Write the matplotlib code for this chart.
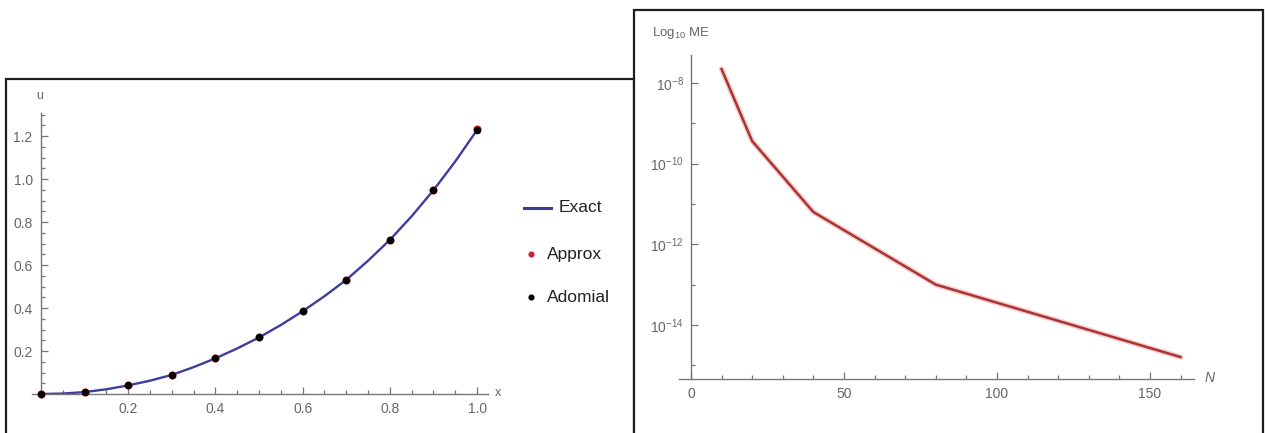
import numpy as np
import matplotlib
matplotlib.use("Agg")
import matplotlib.pyplot as plt
from matplotlib.patches import Rectangle
from matplotlib.lines import Line2D
from matplotlib.ticker import FixedLocator, MultipleLocator, NullFormatter

plt.rcParams["font.family"] = ["Liberation Sans", "DejaVu Sans"]
plt.rcParams["mathtext.fontset"] = "custom"
plt.rcParams["mathtext.rm"] = "Liberation Sans"
plt.rcParams["mathtext.it"] = "Liberation Sans:italic"

# left panel: exact solution vs series approximations
x_exact = [0, 0.05, 0.1, 0.15, 0.2, 0.25, 0.3, 0.35, 0.4, 0.45, 0.5,
           0.55, 0.6, 0.65, 0.7, 0.75, 0.8, 0.85, 0.9, 0.95, 1.0]
u_exact = [0, 0.002, 0.009, 0.022, 0.040, 0.062, 0.089, 0.125, 0.166, 0.212, 0.263,
           0.321, 0.385, 0.455, 0.531, 0.620, 0.717, 0.827, 0.948, 1.082, 1.228]
x_pts = [0, 0.1, 0.2, 0.3, 0.4, 0.5, 0.6, 0.7, 0.8, 0.9, 1.0]
u_approx = [0, 0.008, 0.040, 0.089, 0.166, 0.263, 0.385, 0.531, 0.717, 0.948, 1.232]
u_adomian = [0, 0.008, 0.040, 0.089, 0.166, 0.263, 0.385, 0.531, 0.717, 0.948, 1.228]
legend_labels = ["Exact", "Approx", "Adomial"]

# right panel: maximum error vs N
n_vals = [10, 20, 40, 80, 160]
max_err = [2.2e-8, 3.6e-10, 6.3e-12, 1.0e-13, 1.6e-15]

W, H = 1265, 433
fig = plt.figure(figsize=(W / 100, H / 100), dpi=100)

def fx(px):
    return px / W

def fy(py):
    return (H - py) / H

axis_col = "#777777"
text_col = "#666666"
exact_col = "#3d3d9e"
approx_col = "#cc2233"

# panel frames
fig.add_artist(Rectangle((fx(6), -0.05), fx(634) - fx(6), fy(79) + 0.05,
                         transform=fig.transFigure, fill=False,
                         ec="#1e1e1e", lw=1.6, zorder=1))
fig.add_artist(Rectangle((fx(634), -0.05), fx(1263) - fx(634), fy(10) + 0.05,
                         transform=fig.transFigure, fc="white",
                         ec="#1e1e1e", lw=1.6, zorder=2))


def style_axes(ax):
    ax.set_zorder(3)
    ax.patch.set_visible(False)
    for s in ["top", "right"]:
        ax.spines[s].set_visible(False)
    for s in ["left", "bottom"]:
        ax.spines[s].set_color(axis_col)
        ax.spines[s].set_linewidth(1.0)
    ax.tick_params(which="both", direction="in", color=axis_col,
                   labelcolor=text_col, labelsize=10, width=0.9)
    ax.tick_params(which="major", length=5, pad=6)
    ax.tick_params(which="minor", length=3)


# left plot
ax1 = fig.add_axes([fx(32), fy(394), fx(488) - fx(32), fy(113) - fy(394)])
style_axes(ax1)
ax1.plot(x_exact, u_exact, color=exact_col, lw=1.7, zorder=2)
ax1.plot(x_pts, u_approx, "o", color=approx_col, ms=4.8, clip_on=False, zorder=3)
ax1.plot(x_pts, u_adomian, "o", color="black", ms=4.4, clip_on=False, zorder=4)
ax1.set_xlim(-0.0207, 1.025)
ax1.set_ylim(0, 1.307)
ax1.spines["left"].set_position(("data", 0))
ax1.xaxis.set_major_locator(FixedLocator([0.2, 0.4, 0.6, 0.8, 1.0]))
ax1.xaxis.set_minor_locator(MultipleLocator(0.05))
ax1.yaxis.set_major_locator(FixedLocator([0.2, 0.4, 0.6, 0.8, 1.0, 1.2]))
ax1.yaxis.set_minor_locator(MultipleLocator(0.05))
ax1.xaxis.set_major_formatter(lambda v, p: f"{v:.1f}")
ax1.yaxis.set_major_formatter(lambda v, p: f"{v:.1f}")
fig.text(fx(40), fy(96), "u", color=text_col, fontsize=9, ha="center", va="center")
fig.text(fx(498), fy(393), "x", color=text_col, fontsize=9, ha="center", va="center")

# legend next to the left plot
fig.add_artist(Line2D([fx(524), fx(551)], [fy(208), fy(208)],
                      transform=fig.transFigure, color=exact_col, lw=2.2, zorder=4))
fig.add_artist(Line2D([fx(531)], [fy(254)], transform=fig.transFigure,
                      marker="o", ms=3.4, color=approx_col, zorder=4))
fig.add_artist(Line2D([fx(531)], [fy(297)], transform=fig.transFigure,
                      marker="o", ms=3.4, color="black", zorder=4))
for lab, tx, ty in zip(legend_labels, [559, 547, 547], [208, 254, 297]):
    fig.text(fx(tx), fy(ty), lab, fontsize=12.5, color="#222222",
             ha="left", va="center", zorder=4)

# right plot
ax2 = fig.add_axes([fx(679), fy(379), fx(1194) - fx(679), fy(55) - fy(379)])
style_axes(ax2)
ax2.set_yscale("log")
ax2.plot(n_vals, max_err, color="#f4b0b0", lw=4.0, alpha=0.6, solid_capstyle="round")
ax2.plot(n_vals, max_err, color="#a83434", lw=1.8)
ax2.set_xlim(-3.9, 164.4)
ax2.set_ylim(10 ** -15.34, 10 ** -7.31)
ax2.spines["left"].set_position(("data", 0))
ax2.xaxis.set_major_locator(FixedLocator([0, 50, 100, 150]))
ax2.xaxis.set_minor_locator(MultipleLocator(10))
ax2.yaxis.set_major_locator(FixedLocator([1e-14, 1e-12, 1e-10, 1e-8]))
ax2.yaxis.set_minor_locator(FixedLocator([1e-15, 1e-13, 1e-11, 1e-9]))
ax2.yaxis.set_minor_formatter(NullFormatter())
ax2.yaxis.set_major_formatter(lambda v, p: r"$10^{%d}$" % round(np.log10(v)))
ax2.tick_params(axis="y", which="major", pad=5)
fig.text(fx(652), fy(33), r"Log$_{10}$ ME", color=text_col, fontsize=9.5,
         ha="left", va="center")
fig.text(fx(1210), fy(378), "N", color=text_col, fontsize=10, style="italic",
         ha="center", va="center")

fig.savefig("out.png", dpi=100)
